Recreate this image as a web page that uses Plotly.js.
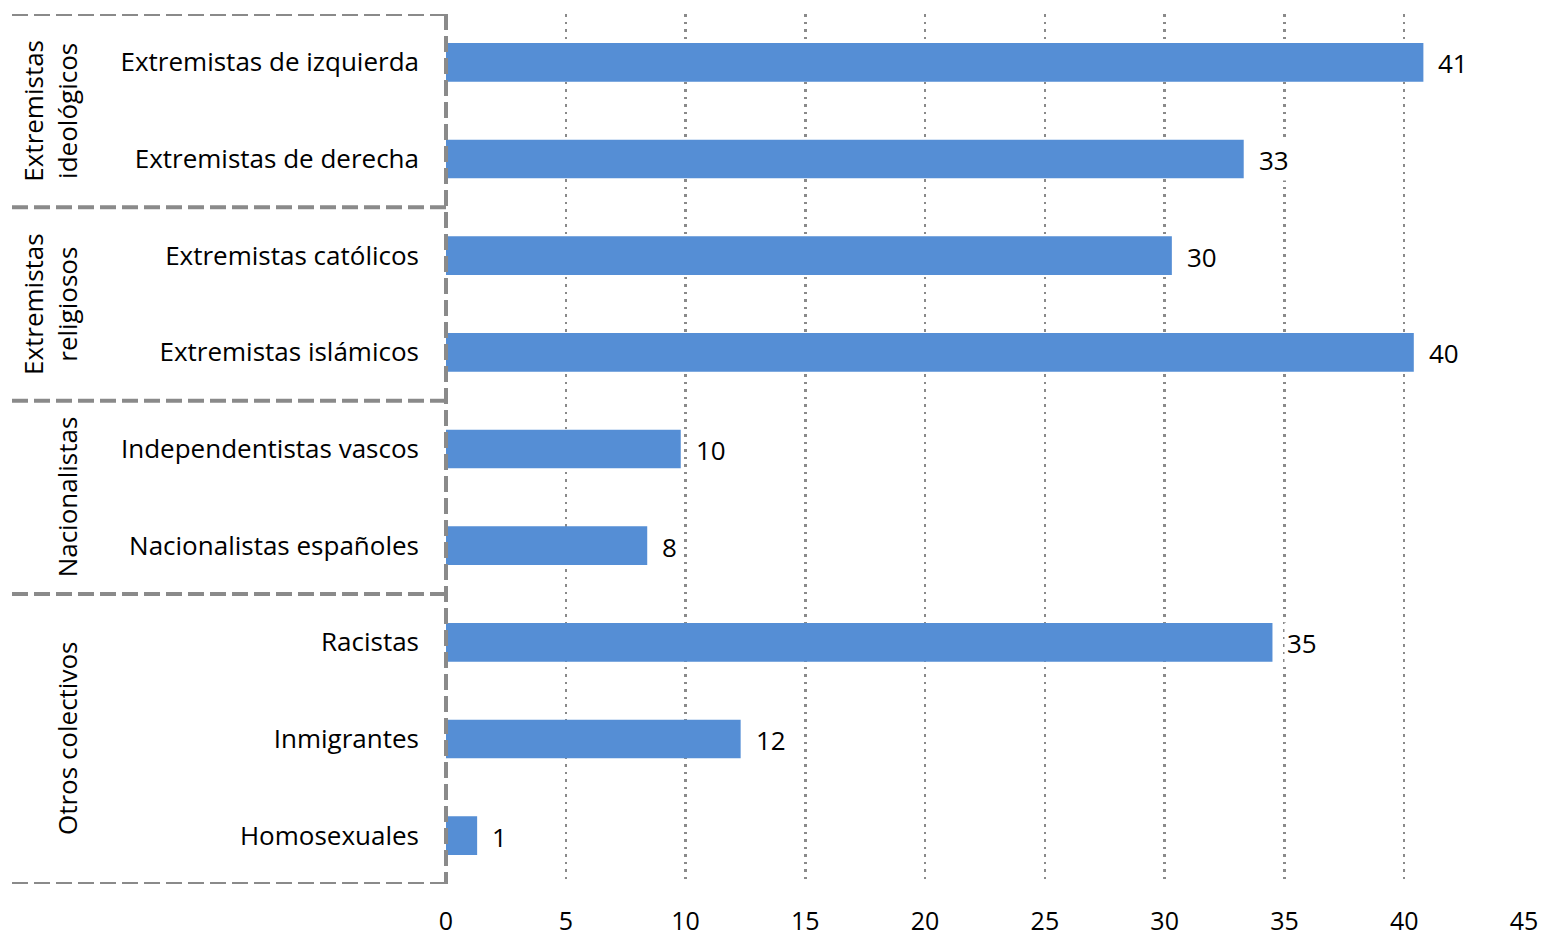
<!DOCTYPE html>
<html>
<head>
<meta charset="utf-8">
<script src="https://cdn.plot.ly/plotly-3.0.1.min.js"></script>
<style>html,body{margin:0;padding:0;background:#fff;}#chart{width:1543px;height:936px;}</style>
</head>
<body>
<div id="chart"></div>
<script>
const categories = ["Extremistas de izquierda","Extremistas de derecha","Extremistas católicos","Extremistas islámicos","Independentistas vascos","Nacionalistas españoles","Racistas","Inmigrantes","Homosexuales"];
const values = [40.8, 33.3, 30.3, 40.4, 9.8, 8.4, 34.5, 12.3, 1.3];
const groupNames = ["Extremistas<br>ideológicos","Extremistas<br>religiosos","Nacionalistas","Otros colectivos"];
const groupStart = [0, 2, 4, 6];
const groupEnd = [1, 3, 5, 8];
const xTicks = [0,5,10,15,20,25,30,35,40,45];

const FONT = "Open Sans, Noto Sans, sans-serif";
const FS = 26;
const GREY = "#8a8a8a";
const BOXLEFT = -0.4026;

const trace = {
  type: "bar", orientation: "h",
  x: values, y: categories,
  width: 0.4,
  marker: {color: "#558ED5"},
  hoverinfo: "none"
};

const annotations = values.map((v, i) => ({
  x: v, y: categories[i], xref: "x", yref: "y",
  text: String(Math.round(v)), showarrow: false,
  xanchor: "left", yanchor: "middle", xshift: 12, yshift: -1,
  bgcolor: "#fff", borderpad: 2,
  font: {family: FONT, size: FS, color: "#000"}
}));
groupNames.forEach((g, i) => {
  annotations.push({
    x: -0.333, xref: "paper",
    y: (groupStart[i] + groupEnd[i]) / 2, yref: "y",
    text: g, showarrow: false, textangle: -90,
    xanchor: "right", yanchor: "middle",
    font: {family: FONT, size: FS, color: "#000"}
  });
});

const shapes = [];
const bounds = [-0.5].concat(groupEnd.map(e => e + 0.5));
bounds.forEach(b => {
  shapes.push({type: "line", xref: "paper", yref: "y", x0: BOXLEFT, x1: 0, y0: b, y1: b,
    line: {color: GREY, width: 4, dash: "16px,6px"}});
});
shapes.push({type: "line", xref: "paper", yref: "y", x0: 0, x1: 0, y0: -0.5, y1: 8.5,
  line: {color: GREY, width: 4, dash: "16px,6px"}});

const layout = {
  width: 1543, height: 936,
  margin: {l: 446, r: 19, t: 14, b: 52},
  paper_bgcolor: "#fff", plot_bgcolor: "#fff",
  showlegend: false,
  font: {family: FONT, size: FS, color: "#000"},
  xaxis: {
    range: [0, 45], tickvals: xTicks, ticktext: xTicks.map(String),
    showgrid: true, gridcolor: GREY, gridwidth: 2.5, griddash: "2.5px,5px",
    zeroline: false, showline: false, ticks: "", ticklabelstandoff: 20,
    tickfont: {family: FONT, size: FS - 1, color: "#000"}, fixedrange: true
  },
  yaxis: {
    type: "category", categoryorder: "array", categoryarray: categories,
    range: [8.5, -0.5], showgrid: false, zeroline: false, showline: false,
    ticks: "", ticklabelstandoff: 26,
    tickfont: {family: FONT, size: FS, color: "#000"}, fixedrange: true
  },
  annotations: annotations,
  shapes: shapes
};

Plotly.newPlot("chart", [trace], layout, {staticPlot: true});
</script>
</body>
</html>
